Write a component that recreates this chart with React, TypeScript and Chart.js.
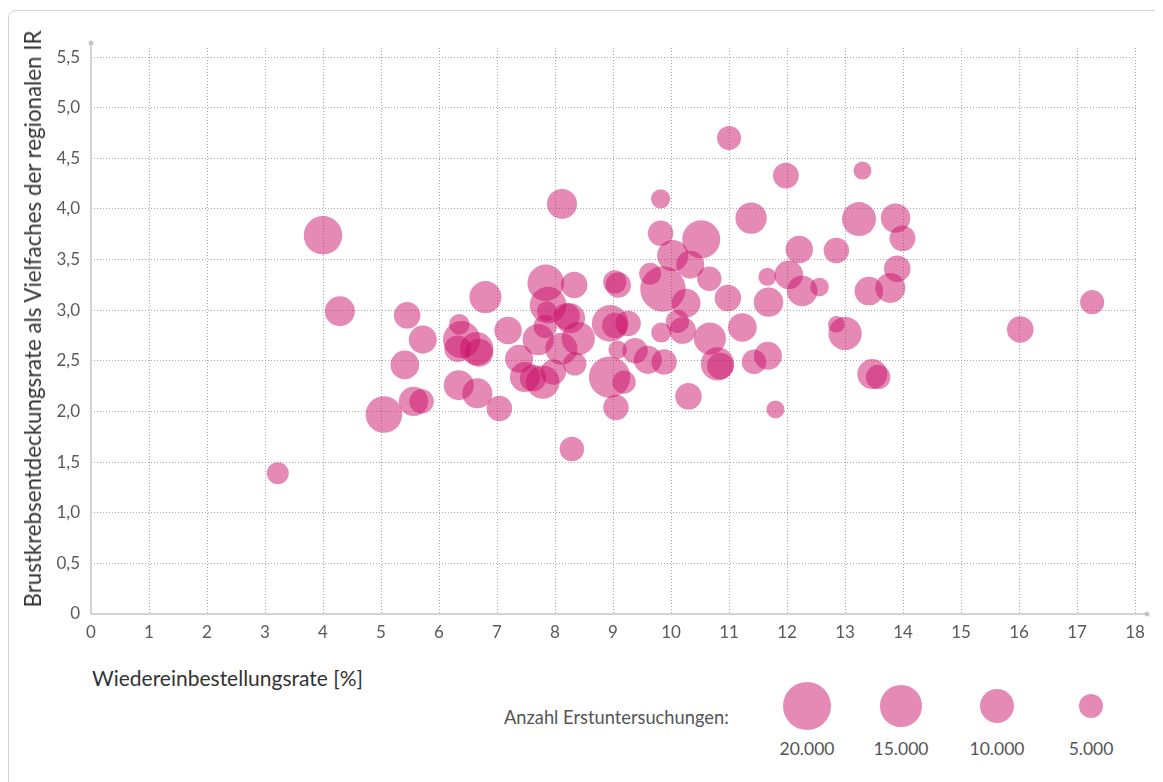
import React, { useEffect, useRef } from "react";
import { Chart, registerables } from "chart.js";

Chart.register(...registerables);

// Wiedereinbestellungsrate [%]
const xValues = [
  3.22, 4.0, 4.29, 5.05, 5.45, 5.72, 5.41, 5.56, 5.7, 6.35,
  6.39, 6.32, 6.65, 6.69, 6.34, 6.66, 7.04, 6.8, 7.19, 7.38,
  7.48, 7.79, 7.97, 7.62, 8.29, 8.12, 7.84, 8.33, 7.88, 7.86,
  8.2, 8.26, 7.83, 7.71, 8.4, 8.11, 8.34, 8.95, 9.03, 9.26,
  9.03, 9.09, 9.08, 9.38, 9.6, 9.88, 8.94, 9.19, 9.05, 10.3,
  9.64, 9.86, 10.26, 9.83, 10.11, 10.2, 10.03, 10.33, 9.82, 9.82,
  10.52, 10.66, 11.38, 11.0, 11.98, 13.3, 13.24, 13.87, 13.99, 12.21,
  12.85, 13.9, 11.66, 12.03, 12.26, 12.56, 10.98, 11.68, 13.41, 13.78,
  11.23, 10.67, 12.85, 13.0, 16.02, 17.26, 10.8, 10.85, 11.43, 11.67,
  13.47, 13.57, 11.8,
];

// Brustkrebsentdeckungsrate als Vielfaches der regionalen IR
const yValues = [
  1.39, 3.74, 2.99, 1.97, 2.95, 2.71, 2.46, 2.1, 2.1, 2.86,
  2.71, 2.62, 2.62, 2.58, 2.26, 2.18, 2.03, 3.13, 2.8, 2.52,
  2.34, 2.29, 2.39, 2.33, 1.63, 4.05, 3.27, 3.25, 3.05, 2.99,
  2.94, 2.92, 2.84, 2.71, 2.72, 2.62, 2.47, 2.87, 2.85, 2.87,
  3.28, 3.25, 2.61, 2.6, 2.51, 2.49, 2.34, 2.29, 2.04, 2.15,
  3.36, 3.21, 3.07, 2.78, 2.89, 2.8, 3.54, 3.45, 4.1, 3.76,
  3.7, 3.31, 3.91, 4.7, 4.33, 4.38, 3.9, 3.91, 3.71, 3.6,
  3.59, 3.41, 3.33, 3.35, 3.19, 3.23, 3.12, 3.08, 3.19, 3.22,
  2.83, 2.72, 2.86, 2.77, 2.81, 3.08, 2.47, 2.45, 2.49, 2.55,
  2.37, 2.34, 2.02,
];

// Anzahl Erstuntersuchungen
const counts = [
  4200, 12800, 7800, 11600, 6100, 6800, 7100, 7500, 5200, 3700,
  12000, 6100, 9600, 6800, 7800, 7800, 5600, 8900, 6500, 6800,
  7800, 9600, 5600, 6100, 5200, 7800, 11600, 6100, 11600, 3500,
  6100, 7800, 4700, 8500, 9600, 8900, 4700, 11600, 5600, 5600,
  4700, 5600, 3000, 5600, 6800, 5600, 14800, 4700, 5600, 6100,
  4200, 17800, 7100, 3500, 4700, 6100, 8500, 6800, 3200, 5600,
  12500, 5200, 8500, 5000, 5800, 2800, 10000, 7500, 5800, 6500,
  5600, 6100, 2800, 7100, 8100, 3000, 6100, 7500, 7100, 7800,
  7100, 8900, 2400, 9600, 6100, 5000, 9600, 6100, 5200, 6800,
  7800, 5200, 2800,
];

const legendValues = [20000, 15000, 10000, 5000];
const legendLabels = ["20.000", "15.000", "10.000", "5.000"];
const legendCenters = [798, 892, 988, 1082];

const xTitle = "Wiedereinbestellungsrate [%]";
const yTitle = "Brustkrebsentdeckungsrate als Vielfaches der regionalen IR";
const legendTitle = "Anzahl Erstuntersuchungen:";

const BUBBLE = "rgba(200, 10, 100, 0.48)";
const FONT = "Lato, 'Noto Sans', sans-serif";
const radiusOf = (n: number) => 0.17 * Math.sqrt(n);

const fmt = (v: number) => (v === 0 ? "0" : v.toFixed(1).replace(".", ","));

const axisPlugin = {
  id: "axisLines",
  beforeDatasetsDraw(chart: any) {
    const { ctx, chartArea: a } = chart;
    ctx.save();
    ctx.strokeStyle = "#c4c4cc";
    ctx.fillStyle = "#c4c4cc";
    ctx.lineWidth = 1.5;
    ctx.beginPath();
    ctx.moveTo(a.left, a.bottom);
    ctx.lineTo(a.right + 9, a.bottom);
    ctx.moveTo(a.left, a.bottom);
    ctx.lineTo(a.left, a.top - 5);
    ctx.stroke();
    ctx.beginPath();
    ctx.arc(a.right + 9, a.bottom, 2.5, 0, Math.PI * 2);
    ctx.fill();
    ctx.beginPath();
    ctx.arc(a.left, a.top - 5, 2.5, 0, Math.PI * 2);
    ctx.fill();
    ctx.restore();
  },
};

export default function App() {
  const ref = useRef<HTMLCanvasElement | null>(null);

  useEffect(() => {
    if (!ref.current) return;
    const data = xValues.map((x, i) => ({ x, y: yValues[i], r: radiusOf(counts[i]) }));
    const chart = new Chart(ref.current, {
      type: "bubble",
      data: {
        datasets: [
          {
            data,
            backgroundColor: BUBBLE,
            borderWidth: 0,
            hoverBorderWidth: 0,
          },
        ],
      },
      options: {
        responsive: false,
        animation: false,
        events: [],
        layout: { padding: { top: 37, right: 23, left: 0, bottom: 0 } },
        plugins: { legend: { display: false }, tooltip: { enabled: false } },
        scales: {
          x: {
            type: "linear",
            min: 0,
            max: 18.05,
            afterFit: (s: any) => {
              s.height = 37;
            },
            border: { display: false, dash: [1, 2] },
            grid: {
              color: (c: any) => (c.tick && c.tick.value === 0 ? "rgba(0,0,0,0)" : "#a8a8a8"),
              lineWidth: 1,
              drawTicks: false,
            },
            ticks: {
              stepSize: 1,
              includeBounds: false,
              padding: 8,
              color: "#5a5a5a",
              font: { family: FONT, size: 17 },
              callback: (v: any) => String(v),
            },
          },
          y: {
            type: "linear",
            min: 0,
            max: 5.59,
            afterFit: (s: any) => {
              s.width = 82;
            },
            border: { display: false, dash: [1, 2] },
            grid: {
              color: (c: any) => (c.tick && c.tick.value === 0 ? "rgba(0,0,0,0)" : "#a8a8a8"),
              lineWidth: 1,
              drawTicks: false,
            },
            ticks: {
              stepSize: 0.5,
              includeBounds: false,
              padding: 11,
              color: "#5a5a5a",
              font: { family: FONT, size: 17 },
              callback: (v: any) => fmt(Number(v)),
            },
          },
        },
      },
      plugins: [axisPlugin],
    });
    return () => chart.destroy();
  }, []);

  return (
    <div
      style={{
        position: "relative",
        marginTop: 2,
        width: 1152,
        height: 790,
        border: "1px solid #d2d2d2",
        borderRadius: 8,
        background: "#fff",
        fontFamily: FONT,
      }}
    >
      <canvas ref={ref} width={1152} height={640} style={{ display: "block", position: "absolute", left: 0, top: 0 }} />
      <div
        style={{
          position: "absolute",
          left: 24,
          top: 307.5,
          transform: "translate(-50%, -50%) rotate(-90deg)",
          whiteSpace: "nowrap",
          fontSize: 22.3,
          lineHeight: "26px",
          color: "#333",
        }}
      >
        {yTitle}
      </div>
      <div
        style={{
          position: "absolute",
          left: 83,
          top: 654,
          whiteSpace: "nowrap",
          fontSize: 21,
          lineHeight: "26px",
          color: "#333",
        }}
      >
        {xTitle}
      </div>
      <div
        style={{
          position: "absolute",
          left: 495,
          top: 695,
          whiteSpace: "nowrap",
          fontSize: 18.3,
          lineHeight: "22px",
          color: "#555",
        }}
      >
        {legendTitle}
      </div>
      {legendValues.map((v, i) => {
        const r = radiusOf(v);
        return (
          <div key={"c" + i}>
            <div
              style={{
                position: "absolute",
                left: legendCenters[i] - r,
                top: 695 - r,
                width: 2 * r,
                height: 2 * r,
                borderRadius: "50%",
                background: BUBBLE,
              }}
            />
            <div
              style={{
                position: "absolute",
                left: legendCenters[i] - 50,
                width: 100,
                top: 727,
                textAlign: "center",
                fontSize: 17.5,
                lineHeight: "22px",
                color: "#555",
              }}
            >
              {legendLabels[i]}
            </div>
          </div>
        );
      })}
    </div>
  );
}
